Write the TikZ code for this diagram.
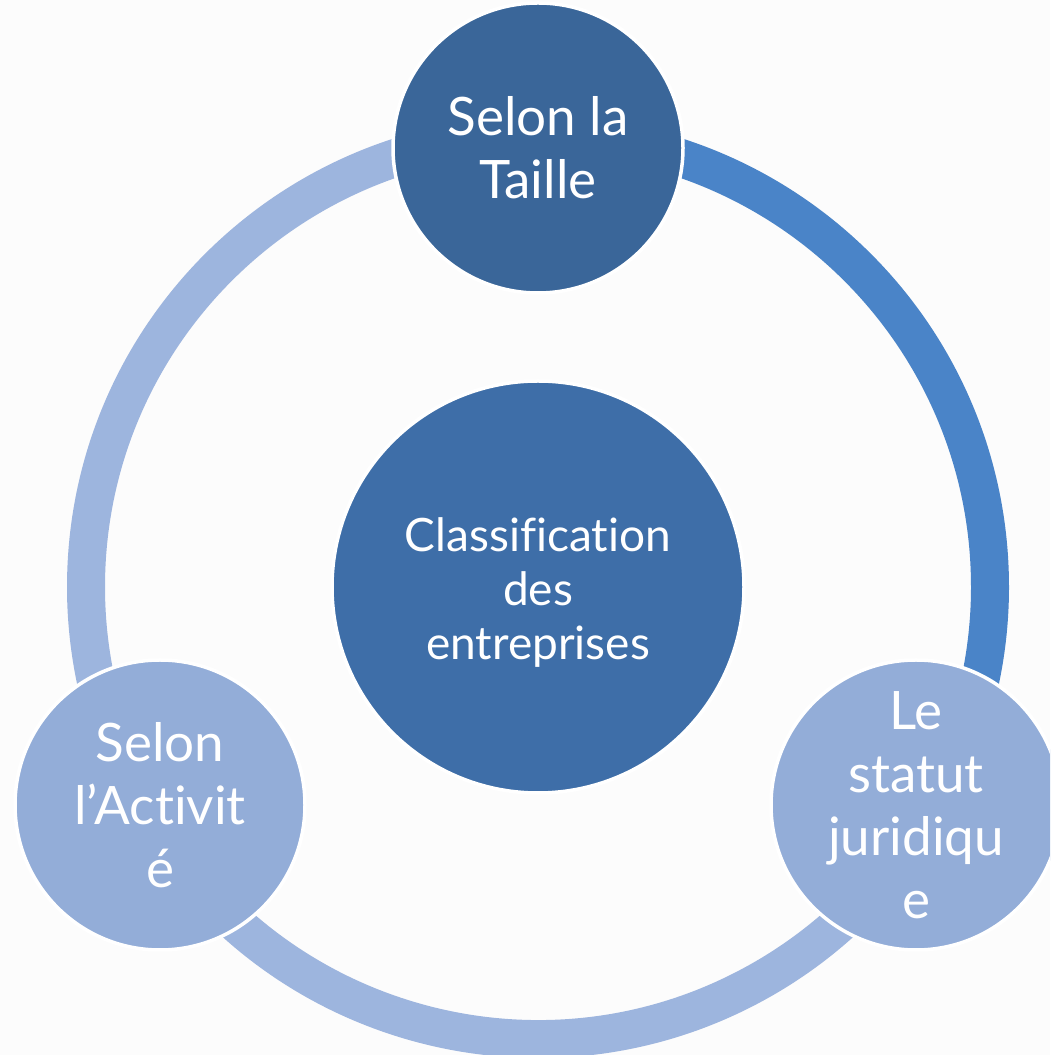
\documentclass[tikz,border=0pt]{standalone}
\usepackage{fontspec}
\setmainfont{Lato}[Ligatures={NoCommon,NoRare,NoContextual}]
\definecolor{bg}{HTML}{FCFCFC}
\definecolor{topc}{HTML}{3A6699}
\definecolor{cenc}{HTML}{3E6EA8}
\definecolor{sidec}{HTML}{93ADD8}
\definecolor{darkarc}{HTML}{4A84C8}
\definecolor{lightarc}{HTML}{9DB5DE}
\begin{document}
\begin{tikzpicture}[x=1pt,y=1pt,
  bubble/.style={circle, inner sep=0pt, draw=white, line width=3.5pt, text=white, align=center},
  bigtext/.style={font=\fontsize{53}{63}\selectfont},
  midtext/.style={font=\fontsize{46}{54}\selectfont},
  ringseg/.style={line width=38pt}]
\useasboundingbox (0,0) rectangle (1050,1055);
\clip (0,0) rectangle (1050,1055);
\fill[bg] (0,0) rectangle (1050,1055);
\coordinate (rc) at (538,468);
\draw[ringseg, lightarc] ([shift={(90:452)}]rc) arc[start angle=90, end angle=210, radius=452];
\draw[ringseg, lightarc] ([shift={(210:452)}]rc) arc[start angle=210, end angle=330, radius=452];
\draw[ringseg, darkarc] ([shift={(90:452)}]rc) arc[start angle=90, end angle=-30, radius=452];
\node[bubble, fill=cenc, minimum size=412pt,
  label={[midtext, text=white, align=center, yshift=-6pt]center:{Classification\\des\\entreprises}}] (centre) at (538,468) {};
\node[bubble, fill=topc, minimum size=290pt, bigtext] (taille) at (538,907) {Selon la\\Taille};
\node[bubble, fill=sidec, minimum size=290pt, bigtext] (activite) at (160,250) {Selon\\l’Activit\\é};
\node[bubble, fill=sidec, minimum size=290pt, bigtext] (statut) at (916,250) {Le\\statut\\juridiqu\\e};
\end{tikzpicture}
\end{document}
